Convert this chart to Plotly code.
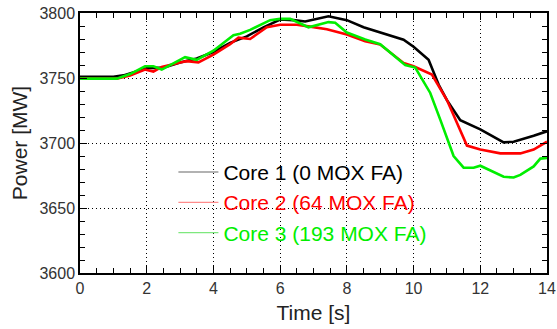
import plotly.graph_objects as go

t1 = [0, 1.0, 1.3, 2.0, 2.5, 3.0, 3.5, 4.0, 4.5, 5.0, 5.5, 6.0, 6.4, 6.75, 7.45, 8.0, 8.5, 9.0, 9.7, 10.0, 10.45, 10.75, 11.0, 11.4, 12.0, 12.7, 13.0, 13.6, 14.0]
p1 = [3751, 3751, 3752, 3757.5, 3758, 3762, 3765, 3770, 3777, 3782, 3789, 3795, 3794.5, 3793.5, 3797.5, 3794.5, 3789, 3785, 3779.5, 3774, 3764, 3745, 3733, 3717.5, 3710.5, 3700.5, 3701, 3705.5, 3709]

t2 = [0, 1.1, 1.5, 1.95, 2.2, 2.45, 3.0, 3.2, 3.55, 4.0, 4.5, 4.75, 5.1, 5.6, 6.0, 6.5, 6.9, 7.4, 8.0, 8.55, 9.0, 9.7, 10.0, 10.55, 11.0, 11.6, 12.0, 12.6, 13.2, 13.6, 14.0]
p2 = [3749.5, 3749.5, 3752, 3756.5, 3755, 3758.5, 3762, 3763, 3762, 3768, 3776, 3781, 3780, 3789, 3791, 3791, 3789.5, 3787.5, 3783.4, 3778.3, 3775.7, 3761.6, 3759, 3752.6, 3733, 3698, 3695, 3692, 3692, 3695, 3701]

t3 = [0, 1.1, 1.5, 1.95, 2.2, 2.45, 3.15, 3.5, 4.0, 4.6, 4.8, 5.1, 5.7, 6.0, 6.3, 6.85, 7.45, 7.65, 8.0, 8.55, 9.0, 9.75, 10.05, 10.5, 10.8, 11.2, 11.5, 11.8, 12.0, 12.3, 12.7, 13.0, 13.2, 13.6, 13.8, 14.0]
p3 = [3749.5, 3749.5, 3753, 3759, 3759, 3756.5, 3766, 3764, 3771, 3783, 3784, 3787, 3794.5, 3795.5, 3795.5, 3789, 3793, 3792.5, 3785, 3779.6, 3776, 3760, 3758, 3738.5, 3718, 3690, 3681, 3681, 3682.5, 3679, 3674, 3673.5, 3675.5, 3682, 3688, 3688.5]

names = ["Core 1 (0 MOX FA)", "Core 2 (64 MOX FA)", "Core 3 (193 MOX FA)"]
colors = ["#000000", "#ff0000", "#00ee00"]
legend_colors = ["#999999", "#ff8c8c", "#7ee87e"]

fig = go.Figure()
for t, p, c in zip([t1, t2, t3], [p1, p2, p3], colors):
    fig.add_trace(go.Scatter(x=t, y=p, mode="lines", line=dict(color=c, width=2.6),
                             showlegend=False))
for n, c, lc in zip(names, colors, legend_colors):
    fig.add_trace(go.Scatter(x=[None], y=[None], mode="lines",
                             name=f"<span style='color:{c}'>{n}</span>",
                             line=dict(color=lc, width=1.3)))

axis_common = dict(
    showline=True, linecolor="black", linewidth=1.5, mirror="ticks",
    ticks="inside", ticklen=7, tickcolor="black", tickwidth=1,
    showgrid=True, gridcolor="black", griddash="1px,3px", gridwidth=1,
    zeroline=False, automargin=False,
    tickfont=dict(family="Liberation Sans, Arial, sans-serif", size=16, color="#333"),
)

fig.update_xaxes(range=[0, 14], dtick=2, tick0=0,
                 minor=dict(dtick=0.5, ticks="inside", ticklen=5, tickcolor="black", showgrid=False),
                 title=dict(text="Time [s]", font=dict(size=21, color="#222"), standoff=9),
                 **axis_common)
fig.update_yaxes(range=[3600, 3800], dtick=50, tick0=3600,
                 minor=dict(dtick=10, ticks="inside", ticklen=5, tickcolor="black", showgrid=False),
                 title=dict(text="Power [MW]", font=dict(size=21, color="#222"), standoff=6),
                 **axis_common)

fig.update_layout(
    width=557, height=329,
    margin=dict(l=80, r=10, t=13, b=56),
    paper_bgcolor="white", plot_bgcolor="white",
    font=dict(family="Liberation Sans, Arial, sans-serif", color="#222"),
    legend=dict(x=0.2, y=0.466, xanchor="left", yanchor="top",
                bgcolor="rgba(0,0,0,0)", font=dict(size=21), itemwidth=40,
                tracegroupgap=0),
)

fig.write_html("out.html")
